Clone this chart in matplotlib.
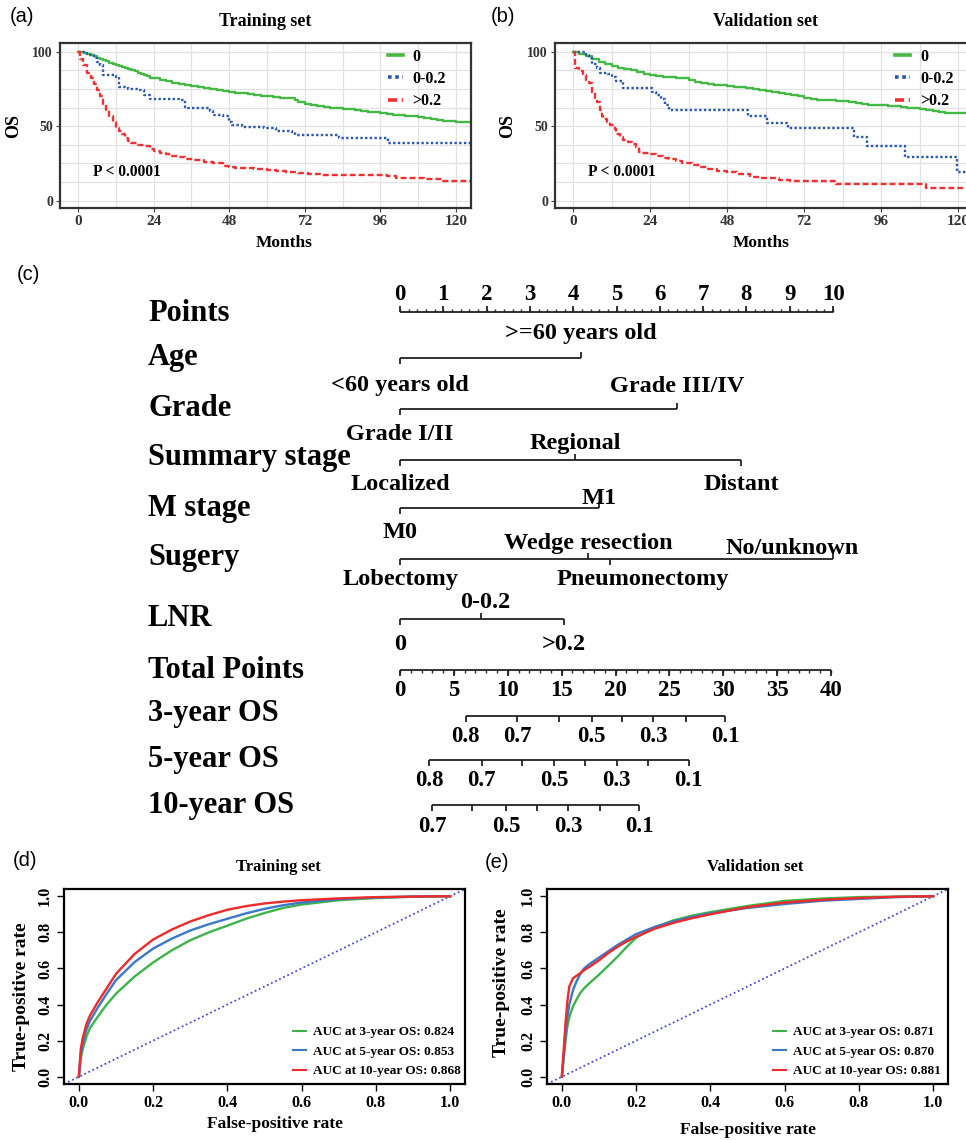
import numpy as np
import matplotlib
matplotlib.use('Agg')
import matplotlib.pyplot as plt
from matplotlib.lines import Line2D
from matplotlib.ticker import MultipleLocator, FormatStrFormatter

plt.rcParams['font.family'] = 'Liberation Serif'
plt.rcParams['font.weight'] = 'bold'

# ---------------- KM data ----------------
km_groups = ['0', '0-0.2', '>0.2']

tr0_t = [0, 1, 2, 3, 4, 5, 6, 7, 8, 9, 10, 11, 12, 13, 14, 15, 16, 17, 18, 19, 20, 21, 22, 23, 24,
         26, 28, 30, 32, 34, 36, 38, 40, 42, 44, 46, 48, 50, 52, 54, 56, 58, 60, 62, 64, 66, 68, 69,
         70, 72, 74, 76, 78, 80, 82, 84, 86, 88, 90, 92, 94, 96, 98, 100, 102, 104, 106, 108, 110,
         112, 114, 116, 118, 120, 125]
tr0_s = [100, 99.5, 99, 98.3, 97.6, 96.8, 96, 95.2, 94.3, 93.4, 92.5, 91.7, 91, 90.5, 90, 89.3, 88.5,
         87.8, 87, 86, 85, 84.2, 83.4, 82.6, 82, 80.8, 80, 79.2, 78.5, 77.8, 77.2, 76.5, 75.8, 75,
         74.3, 73.6, 73, 72.5, 72, 71.5, 71, 70.5, 70, 69.5, 69.2, 69, 68.8, 67.5, 66.5, 65, 64, 63.3,
         62.8, 62.5, 62.2, 61.8, 61.3, 60.7, 60.2, 59.8, 59.3, 58.8, 58.3, 57.8, 57.4, 57, 56.5, 56,
         55.2, 54.5, 54, 53.6, 53.3, 53, 53]

tr1_t = [0, 3, 5, 6, 7, 8, 12, 13, 16, 19, 21, 23, 32, 34, 35, 39, 42, 43, 46, 48, 49, 52, 59, 63,
         68, 69, 83, 98.5, 125]
tr1_s = [100, 98, 96, 93, 91, 84, 83, 76, 75, 74, 71, 68, 67.5, 63, 62.5, 62, 60, 57.5, 56.5, 53, 51,
         49.5, 48.5, 47, 46.3, 44, 42.3, 39, 39]

tr2_t = [0, 0.5, 1.5, 3, 4, 5, 6, 7, 8, 9, 10, 11, 12, 13, 14, 15, 16, 17, 19, 21, 23, 24, 26, 28,
         30, 32, 34, 37, 40, 43, 46, 48, 50, 56, 60, 63, 66, 70, 73, 77, 98, 101, 104, 110, 116, 120, 125]
tr2_s = [100, 95, 91, 86, 82, 78, 74, 70, 65, 61, 57, 53, 49, 47, 44.5, 42, 40, 38.5, 37.5, 36.5, 35,
         33.5, 32, 31, 30, 29, 28, 27, 26, 25, 23.5, 22.5, 22, 21, 20.5, 20, 19.5, 18.5, 18, 17.2, 16.5,
         15.5, 15, 14.5, 13.5, 13, 12.8]

va0_t = [0, 2, 4, 6, 8, 10, 12, 14, 16, 18, 20, 22, 24, 26, 28, 30, 32, 34, 36, 38, 40, 42, 44, 46,
         48, 50, 52, 54, 56, 58, 60, 62, 64, 66, 68, 70, 72, 74, 76, 78, 80, 82, 84, 86, 88, 90, 92,
         94, 96, 98, 100, 102, 104, 106, 108, 110, 112, 114, 116, 118, 120, 126]
va0_s = [100, 98.5, 96.8, 94.8, 93.2, 91.8, 90.6, 89.2, 88.2, 87.5, 86.5, 85.3, 84.3, 83.8, 83.2, 82.8,
         82.4, 82, 80.8, 79.3, 78.8, 78.4, 77.8, 77.5, 77.1, 76.5, 76, 75.5, 75, 74.2, 73.5, 72.6, 72,
         71.5, 70.8, 70, 69, 68, 67.8, 67.6, 67.4, 67.2, 66.8, 66.4, 65.5, 64.8, 64.5, 64.3, 64.1,
         63.7, 63.3, 62.9, 62.5, 62.2, 61.6, 60.8, 60.2, 59.6, 59, 58.8, 58.6, 58.6]

va1_t = [0, 3, 4, 5, 6, 7.5, 8.5, 11, 12, 13.5, 15.5, 24.5, 26, 27.5, 28.5, 30, 54.5, 60.5, 67, 87.5,
         91.5, 103.5, 119.5, 126]
va1_s = [100, 100, 98, 96, 92, 89, 86, 85, 83, 80, 75.4, 73, 71, 68, 64, 60.8, 57, 52.3, 48.5, 43,
         36.7, 29.5, 19.5, 19.5]

va2_t = [0, 0.5, 2, 3, 4, 5, 6, 7, 7.5, 8.3, 9, 9.5, 10.5, 11.5, 13, 13.5, 14.5, 15.6, 17, 18.5, 19.5,
         20.5, 21.5, 24, 26, 28, 30, 32, 34, 37, 39.5, 42, 44.7, 48, 51, 55, 58, 61, 64, 67.5, 82, 110, 126]
va2_s = [100, 89, 87, 84, 81, 78.7, 73, 69, 66, 61, 57, 55, 53, 50.6, 48, 45, 43, 41, 39.5, 38, 36, 33,
         31.8, 31, 30, 28.5, 27.7, 26.5, 25.5, 24, 22.8, 21.5, 20, 19, 18, 16.1, 15.5, 15, 14, 13.2,
         11, 8.7, 8.7]

km_xticks = [0, 24, 48, 72, 96, 120]
km_yticks = [0, 50, 100]

points_ticks = list(range(11))
total_ticks = list(range(0, 41, 5))

age_levels = ['<60 years old', '>=60 years old']
age_pts = [0, 4.18]
grade_levels = ['Grade I/II', 'Grade III/IV']
grade_pts = [0, 6.4]
stage_levels = ['Localized', 'Regional', 'Distant']
stage_pts = [0, 4.04, 7.88]
m_levels = ['M0', 'M1']
m_pts = [0, 4.6]
surg_levels = ['Lobectomy', 'Wedge resection', 'Pneumonectomy', 'No/unknown']
surg_pts = [0, 4.34, 4.85, 10]
lnr_levels = ['0', '0-0.2', '>0.2']
lnr_pts = [0, 1.87, 3.78]

os3_prob = [0.8, 0.7, 0.6, 0.5, 0.4, 0.3, 0.2, 0.1]
os3_total = [6.1, 10.9, 14.75, 17.8, 20.6, 23.5, 26.5, 30.2]
os5_prob = [0.8, 0.7, 0.6, 0.5, 0.4, 0.3, 0.2, 0.1]
os5_total = [2.69, 7.58, 11.3, 14.3, 17.2, 20.1, 23.05, 26.8]
os10_prob = [0.7, 0.6, 0.5, 0.4, 0.3, 0.2, 0.1]
os10_total = [3.0, 6.65, 9.84, 12.75, 15.6, 18.57, 22.2]
shown_probs = [0.8, 0.7, 0.5, 0.3, 0.1]

# ---------------- ROC data ----------------
roc_years = [3, 5, 10]
tr_auc = [0.824, 0.853, 0.868]
va_auc = [0.871, 0.870, 0.881]

tr_fpr = [0, 0.005, 0.01, 0.02, 0.03, 0.05, 0.075, 0.1, 0.15, 0.2, 0.25, 0.3, 0.35, 0.4, 0.45,
          0.5, 0.55, 0.6, 0.7, 0.8, 0.9, 1.0]
tr_tpr3 = [0, 0.1, 0.15, 0.22, 0.27, 0.33, 0.40, 0.46, 0.555, 0.633, 0.70, 0.756, 0.80, 0.837,
           0.875, 0.907, 0.935, 0.954, 0.978, 0.99, 0.997, 1.0]
tr_tpr5 = [0, 0.12, 0.18, 0.26, 0.31, 0.38, 0.46, 0.535, 0.635, 0.71, 0.765, 0.81, 0.845, 0.875,
           0.905, 0.93, 0.95, 0.965, 0.984, 0.993, 0.998, 1.0]
tr_tpr10 = [0, 0.15, 0.21, 0.29, 0.34, 0.41, 0.49, 0.57, 0.68, 0.76, 0.815, 0.86, 0.895, 0.925,
            0.945, 0.96, 0.97, 0.978, 0.988, 0.995, 0.998, 1.0]

va_fpr = [0, 0.005, 0.01, 0.015, 0.02, 0.03, 0.04, 0.05, 0.06, 0.075, 0.1, 0.125, 0.15, 0.175, 0.2,
          0.25, 0.3, 0.35, 0.4, 0.5, 0.6, 0.7, 0.8, 0.9, 1.0]
va_tpr3 = [0, 0.1, 0.2, 0.28, 0.33, 0.39, 0.43, 0.465, 0.49, 0.52, 0.565, 0.615, 0.665, 0.72, 0.77,
           0.828, 0.866, 0.892, 0.912, 0.946, 0.974, 0.987, 0.995, 0.998, 1.0]
va_tpr5 = [0, 0.12, 0.24, 0.33, 0.40, 0.48, 0.53, 0.57, 0.60, 0.625, 0.66, 0.695, 0.73, 0.76, 0.79,
           0.83, 0.86, 0.885, 0.905, 0.935, 0.957, 0.975, 0.985, 0.995, 1.0]
va_tpr10 = [0, 0.15, 0.3, 0.42, 0.5, 0.545, 0.56, 0.575, 0.59, 0.61, 0.645, 0.685, 0.72, 0.75, 0.775,
            0.82, 0.852, 0.878, 0.9, 0.94, 0.965, 0.98, 0.99, 0.997, 1.0]

# colours / styles
km_colors = ['#45b845', '#2b56b0', '#f03030']
km_styles = ['-', (0, (1, 1)), (0, (2.5, 1.3))]
roc_colors = ['#3cb44b', '#3a78c9', '#ee2a2a']

W, H = 966, 1140
fig = plt.figure(figsize=(W / 100, H / 100), dpi=100)


def box(l, t, r, b):
    # axes placed by pixel edges of the panel frame
    return fig.add_axes([l / W, 1 - b / H, (r - l) / W, (b - t) / H])


def ftext(x, y, s, **kw):
    fig.text(x / W, 1 - y / H, s, **kw)


def km_panel(ax, curves, xlim, title, months_x, os_x, leg_x, pos):
    for (t, s), c, ls in zip(curves, km_colors, km_styles):
        ax.step(t, s, where='post', color=c, ls=ls, lw=1.7)
    ax.set_xlim(xlim)
    ax.set_ylim(-4.9, 105.8)
    ax.set_xticks(km_xticks)
    ax.set_yticks(km_yticks)
    ax.xaxis.set_minor_locator(MultipleLocator(12))
    ax.yaxis.set_minor_locator(MultipleLocator(12.5))
    ax.grid(which='both', color='#e2e2e2', lw=0.9)
    ax.set_axisbelow(True)
    ax.tick_params(which='minor', length=0)
    ax.tick_params(axis='x', labelsize=11, pad=2, length=3, color='#444444', labelcolor='#333333')
    ax.tick_params(axis='y', labelsize=10, pad=2, length=3, color='#444444', labelcolor='#333333')
    for sp in ax.spines.values():
        sp.set_color('#333333')
        sp.set_linewidth(1.6)
    l, t, r, b = pos
    ax.text(0.5, 1 + 21 / (b - t), title, transform=ax.transAxes, ha='center', va='center',
            fontsize=13)
    ax.text(months_x, -35 / (b - t), 'Months', transform=ax.transAxes, ha='center',
            va='center', fontsize=12.5)
    ax.text(-(l - os_x) / (r - l), 0.5, 'OS', transform=ax.transAxes, rotation=90,
            ha='center', va='center', fontsize=13)
    ax.text(4.8, 19.5, 'P < 0.0001', ha='left', va='center', fontsize=11.2)
    handles = [Line2D([], [], color=c, ls=ls, lw=2.6) for c, ls in zip(km_colors, km_styles)]
    ax.legend(handles, km_groups, loc='upper left', bbox_to_anchor=(leg_x, 1 - 6 / (b - t)),
              frameon=False, fontsize=11.5, handlelength=0.95, handletextpad=0.6,
              labelspacing=0.38, borderpad=0, borderaxespad=0)


def roc_panel(ax, fpr, tprs, aucs, title, title_x, xlab, ylab, leg_x):
    ax.axline((0, 0), slope=1, color='#4a4ad0', ls=(0, (1, 1.5)), lw=1.3)
    for tpr, c in zip(tprs, roc_colors):
        ax.plot(fpr, tpr, color=c, lw=1.7)
    ax.set_xlim(-0.04, 1.04)
    ax.set_ylim(-0.04, 1.04)
    ticks = np.arange(0, 1.01, 0.2)
    ax.set_xticks(ticks)
    ax.set_yticks(ticks)
    ax.xaxis.set_major_formatter(FormatStrFormatter('%.1f'))
    ax.yaxis.set_major_formatter(FormatStrFormatter('%.1f'))
    ax.tick_params(labelsize=11.5, length=5, width=1, pad=3)
    for lab in ax.get_yticklabels():
        lab.set_rotation(90)
        lab.set_va('center')
    for sp in ax.spines.values():
        sp.set_linewidth(1.6)
    ax.text(title_x, 1 + 22 / 195, title, transform=ax.transAxes, ha='center', va='center',
            fontsize=12)
    ax.text(xlab[0], -xlab[1] / 195, 'False-positive rate', transform=ax.transAxes,
            ha='center', va='center', fontsize=12.5)
    ax.text(-ylab[0] / 401, ylab[1], 'True-positive rate', transform=ax.transAxes,
            rotation=90, ha='center', va='center', fontsize=14)
    handles = [Line2D([], [], color=c, lw=1.5) for c in roc_colors]
    labels = ['AUC at %d-year OS: %.3f' % (y, a) for y, a in zip(roc_years, aucs)]
    ax.legend(handles, labels, loc='lower left', bbox_to_anchor=(leg_x, 0.035), frameon=False,
              fontsize=9.5, handlelength=1.0, handletextpad=0.55, labelspacing=0.55,
              borderpad=0, borderaxespad=0)


# (a) training KM
pos_a = (60, 43, 471, 208)
ax_a = box(*pos_a)
km_panel(ax_a, [(tr0_t, tr0_s), (tr1_t, tr1_s), (tr2_t, tr2_s)], (-5.7, 124.8),
         'Training set', 0.545, 14, 0.797, pos_a)

# (b) validation KM (right side runs off the page like the original)
pos_b = (555, 43, 976, 208)
ax_b = box(*pos_b)
km_panel(ax_b, [(va0_t, va0_s), (va1_t, va1_s), (va2_t, va2_s)], (-5.6, 125.5),
         'Validation set', 0.49, 508, 0.808, pos_b)

# (c) nomogram
top, bot = 265, 845
axP = box(0, top, W, bot)     # x in Points units
axP.set_xlim(-400 / 43.3, (W - 400) / 43.3)
axP.set_ylim(bot, top)
axP.axis('off')
axT = box(0, top, W, bot)     # x in Total Points units
axT.set_xlim(-400 / 10.775, (W - 400) / 10.775)
axT.set_ylim(bot, top)
axT.axis('off')

lc = '#222222'
lw = 1.3
big = 22
cat = 17.5
num = 16.5

# Points scale
yP = 312
axP.hlines(yP, points_ticks[0], points_ticks[-1], color=lc, lw=lw)
axP.vlines(np.arange(points_ticks[0], points_ticks[-1] + 0.01, 0.2), yP, yP - 3, color=lc, lw=1)
axP.vlines(points_ticks, yP, yP - 6, color=lc, lw=lw)
for p in points_ticks:
    axP.text(p, yP - 17, str(p), ha='center', va='center', fontsize=num)

# categorical predictors: (levels, points, line y, label dy, label dx)
rows = [
    (age_levels, age_pts, 358, [27, -25], [0, 0]),
    (grade_levels, grade_pts, 409, [26, -22], [0, 0]),
    (stage_levels, stage_pts, 460, [25, -17, 25], [0, 0, 0]),
    (m_levels, m_pts, 508, [25, -9], [0, 0]),
    (surg_levels, surg_pts, 559, [20, -16, 20, -11], [0, 0, 0.75, -0.95]),
    (lnr_levels, lnr_pts, 619, [26, -16, 26], [0, 0.1, 0]),
]
for levels, pts, y, dys, dxs in rows:
    axP.hlines(y, min(pts), max(pts), color=lc, lw=lw)
    for lev, p, dy, dx in zip(levels, pts, dys, dxs):
        axP.vlines(p, y, y + 6 * np.sign(dy), color=lc, lw=lw)
        axP.text(p + dx, y + dy, lev, ha='center', va='center', fontsize=cat)

# Total points scale
yT = 670
axT.hlines(yT, total_ticks[0], total_ticks[-1], color=lc, lw=lw)
axT.vlines(np.arange(total_ticks[0], total_ticks[-1] + 1), yT, yT + 3, color=lc, lw=1)
axT.vlines(total_ticks, yT, yT + 6, color=lc, lw=lw)
for v in total_ticks:
    axT.text(v, yT + 21, str(v), ha='center', va='center', fontsize=num)

# survival probability scales
for tot, prob, y in [(os3_total, os3_prob, 716), (os5_total, os5_prob, 760),
                     (os10_total, os10_prob, 805)]:
    axT.hlines(y, tot[0], tot[-1], color=lc, lw=lw)
    axT.vlines(tot, y, y + 6, color=lc, lw=lw)
    for v, pr in zip(tot, prob):
        if pr in shown_probs:
            axT.text(v, y + 21, '%.1f' % pr, ha='center', va='center', fontsize=num)

row_names = ['Points', 'Age', 'Grade', 'Summary stage', 'M stage', 'Sugery', 'LNR',
             'Total Points', '3-year OS', '5-year OS', '10-year OS']
row_y = [313, 358, 409, 458, 508, 557, 618, 670, 713, 760, 805]
for name, y in zip(row_names, row_y):
    ftext(148, y, name, ha='left', va='center', fontsize=big)

# (d) / (e) ROC
ax_d = box(64, 889, 465, 1084)
roc_panel(ax_d, tr_fpr, [tr_tpr3, tr_tpr5, tr_tpr10], tr_auc, 'Training set', 0.535,
          (0.526, 40), (43, 0.45), 0.571)
ax_e = box(547, 889, 948, 1084)
roc_panel(ax_e, va_fpr, [va_tpr3, va_tpr5, va_tpr10], va_auc, 'Validation set', 0.52,
          (0.502, 46), (46, 0.52), 0.5636)

# panel letters
for lab, x, y in [('(a)', 10, 17), ('(b)', 491, 17), ('(c)', 17, 274), ('(d)', 13, 861),
                  ('(e)', 485, 862)]:
    ftext(x, y, lab, ha='left', va='center', fontsize=14.5, family='Liberation Sans',
          fontweight='normal')

fig.savefig('out.png', dpi=100)
